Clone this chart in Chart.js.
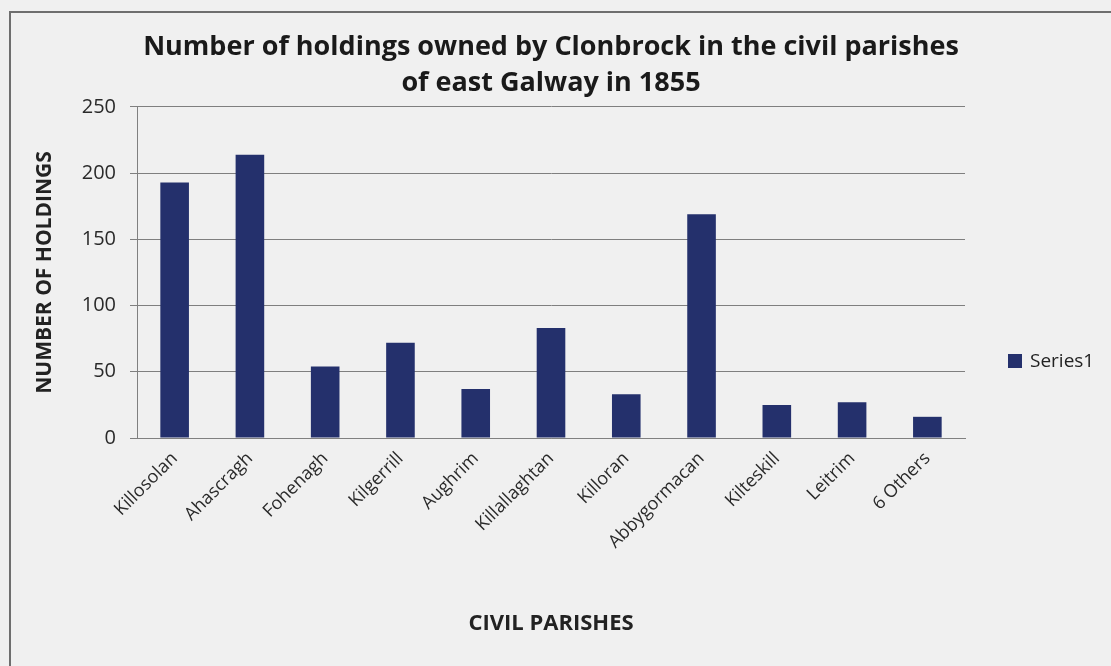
<!DOCTYPE html>
<html>
<head>
<meta charset="utf-8">
<title>Clonbrock holdings by civil parish, 1855</title>
<script src="https://cdn.jsdelivr.net/npm/chart.js@4"></script>
<style>
  html, body { margin: 0; padding: 0; background: #f0f0f0; }
  #wrap { width: 1111px; height: 666px; position: relative; }
</style>
</head>
<body>
<div id="wrap"><canvas id="holdingsChart"></canvas></div>
<script>
// Holdings per civil parish (east Galway, 1855)
const parishes = ['Killosolan', 'Ahascragh', 'Fohenagh', 'Kilgerrill', 'Aughrim', 'Killallaghtan',
                  'Killoran', 'Abbygormacan', 'Kilteskill', 'Leitrim', '6 Others'];
const holdings = [193, 214, 54, 72, 37, 83, 33, 169, 25, 27, 16];
const seriesName = 'Series1';
const titleLines = ['Number of holdings owned by Clonbrock in the civil parishes', 'of east Galway in 1855'];
const yTicks = [0, 50, 100, 150, 200, 250];

const font = "'Open Sans', 'DejaVu Sans', sans-serif";
const navy = '#24306c';

// page background and the frame line round the chart
const framePlugin = {
    id: 'frame',
    beforeDraw(chart) {
        const ctx = chart.ctx;
        ctx.save();
        ctx.fillStyle = '#f0f0f0';
        ctx.fillRect(0, 0, chart.width, chart.height);
        ctx.strokeStyle = '#6e6e6e';
        ctx.lineWidth = 2;
        ctx.strokeRect(10, 12, chart.width + 20, chart.height + 20);
        ctx.restore();
    }
};

// legend entry sitting to the right of the plot
const sideLegend = {
    id: 'sideLegend',
    afterDraw(chart) {
        const ctx = chart.ctx;
        const ds = chart.data.datasets[0];
        const x = chart.chartArea.right + 43;
        const y = 361;
        ctx.save();
        ctx.fillStyle = ds.backgroundColor;
        ctx.fillRect(x, y - 7, 14, 14);
        ctx.fillStyle = '#222';
        ctx.font = `19px ${font}`;
        ctx.textBaseline = 'middle';
        ctx.fillText(ds.label, x + 22, y + 1);
        ctx.restore();
    }
};

const ctx = document.getElementById('holdingsChart').getContext('2d');

new Chart(ctx, {
    type: 'bar',
    data: {
        labels: parishes,
        datasets: [{
            label: seriesName,
            data: holdings,
            backgroundColor: navy,
            barPercentage: 0.38,
            categoryPercentage: 1.0
        }]
    },
    options: {
        responsive: true,
        maintainAspectRatio: false,
        animation: false,
        layout: { padding: { top: 0, left: 0, right: 146, bottom: 0 } },
        scales: {
            x: {
                grid: { display: false },
                border: { color: '#808080', width: 1 },
                ticks: {
                    color: '#2a2a2a',
                    font: { family: font, size: 18 },
                    minRotation: 45,
                    maxRotation: 45,
                    autoSkip: false,
                    padding: 2
                },
                title: {
                    display: true,
                    text: 'CIVIL PARISHES',
                    color: '#222',
                    font: { family: font, size: 22, weight: 'bold' },
                    padding: { top: 0, bottom: 29 }
                },
                afterFit: (scale) => { scale.height = 228; }
            },
            y: {
                min: 0,
                max: 250,
                afterBuildTicks: (scale) => { scale.ticks = yTicks.map(v => ({ value: v })); },
                grid: { color: '#7f7f7f', tickLength: 7, lineWidth: 1 },
                border: { color: '#808080', width: 1 },
                ticks: {
                    color: '#2a2a2a',
                    font: { family: font, size: 20 },
                    padding: 14
                },
                title: {
                    display: true,
                    text: 'NUMBER OF HOLDINGS',
                    color: '#222',
                    font: { family: font, size: 21, weight: 'bold' },
                    padding: { top: 32, bottom: 0 }
                },
                afterFit: (scale) => { scale.width = 137; }
            }
        },
        plugins: {
            legend: { display: false },
            tooltip: { enabled: false },
            title: {
                display: true,
                fullSize: false,
                text: titleLines,
                color: '#1a1a1a',
                font: { family: font, size: 27, weight: 'bold', lineHeight: 1.333 },
                padding: { top: 29, bottom: 6 }
            }
        }
    },
    plugins: [framePlugin, sideLegend]
});
</script>
</body>
</html>
